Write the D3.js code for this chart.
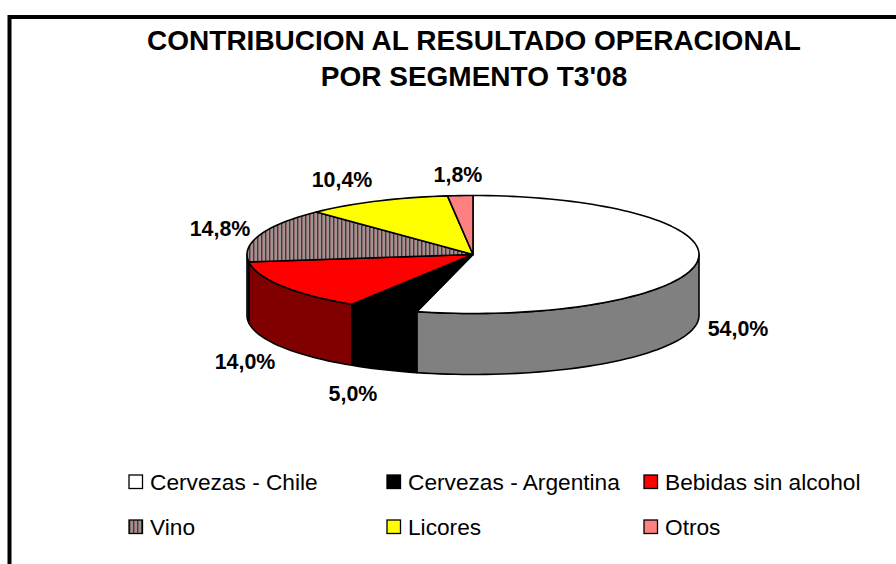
<!DOCTYPE html>
<html><head><meta charset="utf-8">
<script src="https://cdn.jsdelivr.net/npm/d3@7/dist/d3.min.js"></script>
<style>html,body{margin:0;padding:0;background:#fff}svg{display:block}text{font-family:"Liberation Sans",Arial,sans-serif;fill:#000}</style>
</head><body><svg id="c" width="896" height="564"></svg>
<script>
const categories=["Cervezas - Chile","Cervezas - Argentina","Bebidas sin alcohol","Vino","Licores","Otros"];
const values=[54.0,5.0,14.0,14.8,10.4,1.8];
const colors=["#ffffff","#000000","#ff0000","url(#hatch)","#ffff00","#ff8080"];
const sideColors=["#808080","#000000","#800000","url(#hatchDark)","#808000","#804040"];
const titleLines=["CONTRIBUCION AL RESULTADO OPERACIONAL","POR SEGMENTO T3'08"];
const labelPos=[[738,336],[353,401],[245,369],[220,236],[342,187],[458,182]];
const legendPos=[[129,482],[387,482],[644,482],[129,527],[387,527],[644,527]];

const svg=d3.select("#c");
const defs=svg.append("defs");
[["hatch","#969696","#8a1c1c"],["hatchDark","#4b4b4b","#450e0e"]].forEach(([id,bg,st])=>{
  const p=defs.append("pattern").attr("id",id).attr("patternUnits","userSpaceOnUse").attr("width",4).attr("height",4);
  p.append("rect").attr("width",4).attr("height",4).attr("fill",bg);
  p.append("rect").attr("x",1).attr("width",1.4).attr("height",4).attr("fill",st);
});
svg.append("rect").attr("x",9.5).attr("y",17).attr("width",900).attr("height",600).attr("fill","#fff").attr("stroke","#000").attr("stroke-width",4);

const title=svg.append("g");
titleLines.forEach((t,i)=>title.append("text").attr("x",474).attr("y",50+i*36).attr("text-anchor","middle")
  .attr("font-size",28).attr("font-weight","bold").text(t));

const cx=473,cy=254.5,rx=226,ry=59,depth=61;
const pie=d3.pie().sort(null).value(d=>d).startAngle(0).endAngle(2*Math.PI);
const arcs=pie(values);
const px=a=>cx+rx*Math.sin(a), py=a=>cy-ry*Math.cos(a);
const step=Math.PI/90;
function samples(a0,a1){const n=Math.max(2,Math.ceil((a1-a0)/step));return d3.range(n+1).map(i=>a0+(a1-a0)*i/n);}
const line=d3.line();
const g=svg.append("g").attr("stroke","#000").attr("stroke-width",1.6).attr("stroke-linejoin","round");
arcs.forEach((d,i)=>{
  const a0=Math.max(d.startAngle,Math.PI/2),a1=Math.min(d.endAngle,1.5*Math.PI);
  if(a1<=a0)return;
  const top=samples(a0,a1).map(a=>[px(a),py(a)]);
  const bot=samples(a0,a1).reverse().map(a=>[px(a),py(a)+depth]);
  g.append("path").attr("d",line(top.concat(bot))+"Z").attr("fill",sideColors[i]);
});
arcs.forEach((d,i)=>{
  const pts=[[cx,cy]].concat(samples(d.startAngle,d.endAngle).map(a=>[px(a),py(a)]));
  g.append("path").attr("d",line(pts)+"Z").attr("fill",colors[i]);
});
const fmt=v=>v.toFixed(1).replace(".",",")+"%";
values.forEach((v,i)=>svg.append("text").attr("x",labelPos[i][0]).attr("y",labelPos[i][1]).attr("text-anchor","middle")
  .attr("font-size",21.4).attr("font-weight","bold").text(fmt(v)));
categories.forEach((c,i)=>{
  const [x,y]=legendPos[i];
  svg.append("rect").attr("x",x).attr("y",y-7).attr("width",13.5).attr("height",13.5).attr("fill",colors[i]).attr("stroke","#000").attr("stroke-width",1.3);
  svg.append("text").attr("x",x+21).attr("y",y+8).attr("font-size",22.7).text(c);
});
</script></body></html>
